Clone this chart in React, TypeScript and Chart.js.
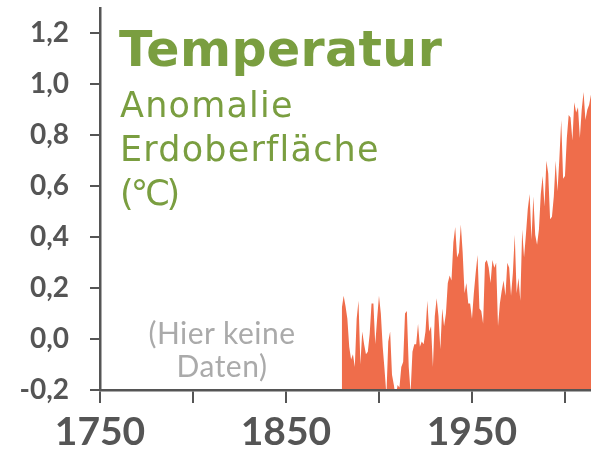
import React, { useEffect, useRef } from "react";
import { Chart, registerables } from "chart.js";

Chart.register(...registerables);

// Years of the series
const years = [
  1880, 1881, 1882, 1883, 1884, 1885, 1886, 1887, 1888, 1889,
  1890, 1891, 1892, 1893, 1894, 1895, 1896, 1897, 1898, 1899,
  1900, 1901, 1902, 1903, 1904, 1905, 1906, 1907, 1908, 1909,
  1910, 1911, 1912, 1913, 1914, 1915, 1916, 1917, 1918, 1919,
  1920, 1921, 1922, 1923, 1924, 1925, 1926, 1927, 1928, 1929,
  1930, 1931, 1932, 1933, 1934, 1935, 1936, 1937, 1938, 1939,
  1940, 1941, 1942, 1943, 1944, 1945, 1946, 1947, 1948, 1949,
  1950, 1951, 1952, 1953, 1954, 1955, 1956, 1957, 1958, 1959,
  1960, 1961, 1962, 1963, 1964, 1965, 1966, 1967, 1968, 1969,
  1970, 1971, 1972, 1973, 1974, 1975, 1976, 1977, 1978, 1979,
  1980, 1981, 1982, 1983, 1984, 1985, 1986, 1987, 1988, 1989,
  1990, 1991, 1992, 1993, 1994, 1995, 1996, 1997, 1998, 1999,
  2000, 2001, 2002, 2003, 2004, 2005, 2006, 2007, 2008, 2009,
  2010, 2011, 2012, 2013, 2014,
];

// Temperature anomaly (°C)
const anomalies = [
  0.12, 0.17, 0.13, 0.08, -0.03, -0.08, -0.06, -0.11, 0.08, 0.15,
  -0.10, 0.03, -0.02, -0.06, -0.05, 0.02, 0.14, 0.14, -0.02, 0.08,
  0.17, 0.10, -0.03, -0.12, -0.22, -0.01, 0.03, -0.14, -0.18, -0.23,
  -0.18, -0.19, -0.11, -0.09, 0.10, 0.11, -0.11, -0.21, -0.05, -0.02,
  -0.02, 0.06, -0.03, -0.01, -0.02, 0.03, 0.15, 0.03, 0.05, -0.11,
  0.09, 0.16, 0.09, -0.04, 0.12, 0.05, 0.10, 0.22, 0.25, 0.23,
  0.38, 0.44, 0.32, 0.34, 0.45, 0.34, 0.18, 0.22, 0.14, 0.14,
  0.08, 0.18, 0.26, 0.33, 0.12, 0.11, 0.06, 0.30, 0.31, 0.28,
  0.22, 0.31, 0.28, 0.30, 0.05, 0.14, 0.19, 0.23, 0.17, 0.30,
  0.28, 0.17, 0.26, 0.41, 0.18, 0.24, 0.15, 0.43, 0.32, 0.41,
  0.51, 0.57, 0.39, 0.56, 0.41, 0.37, 0.43, 0.57, 0.64, 0.52,
  0.70, 0.65, 0.47, 0.48, 0.56, 0.70, 0.58, 0.71, 0.86, 0.63,
  0.64, 0.79, 0.88, 0.87, 0.78, 0.93, 0.89, 0.91, 0.79, 0.90,
  0.97, 0.86, 0.90, 0.92, 0.96,
];

const xTickValues = [1750, 1800, 1850, 1900, 1950, 2000];
const xTickLabels = ["1750", "", "1850", "", "1950", ""];

const yTickValues = [-0.2, 0, 0.2, 0.4, 0.6, 0.8, 1.0, 1.2];
const yTickLabels = ["-0,2", "0,0", "0,2", "0,4", "0,6", "0,8", "1,0", "1,2"];

const AXIS = "#555555";
const FILL = "#ef6d4b";
const GREEN = "#7a9e40";

export default function App() {
  const ref = useRef<HTMLCanvasElement | null>(null);

  useEffect(() => {
    if (!ref.current) return;
    const points = years.map((y, i) => ({ x: y, y: anomalies[i] }));
    const chart = new Chart(ref.current, {
      type: "line",
      data: {
        datasets: [
          {
            data: points,
            fill: "start",
            backgroundColor: FILL,
            borderColor: FILL,
            borderWidth: 0,
            pointRadius: 0,
            tension: 0,
          },
        ],
      },
      options: {
        animation: false,
        responsive: false,
        events: [],
        layout: { padding: { top: 8, right: 0, bottom: 0, left: 0 } },
        plugins: { legend: { display: false }, tooltip: { enabled: false }, title: { display: false } },
        scales: {
          x: {
            type: "linear",
            min: 1750,
            max: 2014,
            afterBuildTicks: (s: any) => {
              s.ticks = xTickValues.map((v) => ({ value: v }));
            },
            afterFit: (s: any) => {
              s.height = 61;
              s.paddingLeft = 0;
              s.paddingRight = 0;
            },
            ticks: {
              autoSkip: false,
              maxRotation: 0,
              minRotation: 0,
              padding: 6,
              color: AXIS,
              font: { family: "Lato", size: 39, weight: "bold" },
              callback: (v: any) => {
                const i = xTickValues.indexOf(Number(v));
                return i >= 0 ? xTickLabels[i] : "";
              },
            },
            grid: { drawOnChartArea: false, drawTicks: true, tickLength: 13, color: AXIS, lineWidth: 2, z: 1 },
            border: { display: true, color: AXIS, width: 2.5, z: 1 },
          },
          y: {
            type: "linear",
            min: -0.2,
            max: 1.3,
            afterBuildTicks: (s: any) => {
              s.ticks = yTickValues.map((v) => ({ value: v }));
            },
            afterFit: (s: any) => {
              s.width = 100;
              s.paddingTop = 0;
              s.paddingBottom = 0;
            },
            ticks: {
              autoSkip: false,
              padding: 21,
              color: AXIS,
              font: { family: "Lato", size: 28, weight: "bold" },
              callback: (v: any) => {
                const i = yTickValues.findIndex((t) => Math.abs(t - Number(v)) < 1e-9);
                return i >= 0 ? yTickLabels[i] : "";
              },
            },
            grid: { drawOnChartArea: false, drawTicks: true, tickLength: 10, color: AXIS, lineWidth: 2, z: 1 },
            border: { display: true, color: AXIS, width: 2.5, z: 1 },
          },
        },
      },
    });
    return () => chart.destroy();
  }, []);

  return (
    <div style={{ position: "absolute", left: 0, top: 0, width: 591, height: 451, overflow: "hidden", background: "#fff" }}>
      <canvas ref={ref} width={591} height={451} style={{ display: "block", width: 591, height: 451 }} />
      <div
        style={{
          position: "absolute",
          left: 119,
          top: 25,
          fontFamily: "'DejaVu Sans'",
          fontWeight: "bold",
          fontSize: 49,
          lineHeight: "49px",
          letterSpacing: "0.4px",
          color: GREEN,
          whiteSpace: "nowrap",
        }}
      >
        Temperatur
      </div>
      <div
        style={{
          position: "absolute",
          left: 120,
          top: 83,
          fontFamily: "'DejaVu Sans'",
          fontSize: 35,
          lineHeight: "44px",
          letterSpacing: "1.2px",
          color: GREEN,
          whiteSpace: "nowrap",
        }}
      >
        Anomalie
        <br />
        Erdoberfläche
        <br />
        <span style={{ letterSpacing: "-3px" }}>(°C)</span>
      </div>
      <div
        style={{
          position: "absolute",
          left: 122,
          top: 316,
          width: 200,
          textAlign: "center",
          fontFamily: "Lato",
          fontSize: 30,
          lineHeight: "33px",
          letterSpacing: "0.5px",
          color: "#aaaaaa",
          whiteSpace: "nowrap",
        }}
      >
        (Hier keine
        <br />
        Daten)
      </div>
    </div>
  );
}
